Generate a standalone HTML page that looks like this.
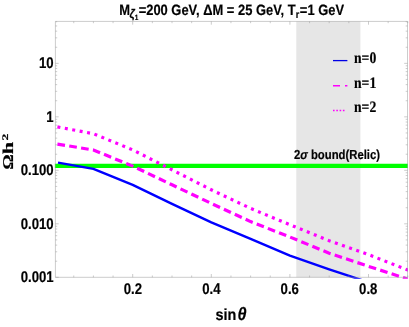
<!DOCTYPE html>
<html><head><meta charset="utf-8">
<style>
html,body{margin:0;padding:0;background:#fff;}
body{width:409px;height:327px;overflow:hidden;}
svg{display:block;}
text{font-family:"Liberation Sans",sans-serif;font-weight:bold;fill:#000;stroke:#000;stroke-width:0.2px;}
.ser{font-family:"Liberation Serif",serif;font-weight:bold;}
</style></head><body>
<svg width="409" height="327" viewBox="0 0 409 327" text-rendering="geometricPrecision">
<defs><clipPath id="cp"><rect x="54.9" y="21.4" width="353" height="257.4"/></clipPath></defs>
<rect width="409" height="327" fill="#fff"/>
<rect x="296.3" y="21.4" width="64.1" height="255.9" fill="#e6e6e6"/>
<g clip-path="url(#cp)">
<line x1="54" y1="165.9" x2="409" y2="165.9" stroke="#00ff00" stroke-width="4.4"/>
<polyline fill="none" stroke="#0000ff" stroke-width="2.4" stroke-linejoin="round" points="58.0,162.6 93.4,168.9 132.7,184.8 172.0,203.9 211.3,222.3 250.6,238.9 289.9,255.6 329.2,269.3 368.5,282.3"/>
<polyline fill="none" stroke="#ff00ff" stroke-width="3.2" stroke-dasharray="7.7,4.29" points="57.4,144.1 93.4,150.0 132.7,166.1 172.0,184.8 211.3,203.4 250.6,221.6 289.9,237.0 329.2,253.2 368.5,266.3 407.8,279.1 410.0,279.8"/>
<polyline fill="none" stroke="#ff00ff" stroke-width="3.2" stroke-dasharray="3,4.545" points="57.4,126.9 93.4,133.7 132.7,149.9 172.0,169.8 211.3,189.8 250.6,208.4 289.9,224.7 329.2,240.7 368.5,254.6 407.8,270.0 410.0,270.9"/>
</g>
<g stroke="#999" stroke-width="0.5" fill="none">
<path d="M55.4 21.4H407.5M55.4 277.3H407.5M55.4 21.4V277.3M407.5 21.4V277.3"/>
<path d="M55.4 277.31h3.3M407.5 277.31h-3.3M55.4 261.21h1.8M407.5 261.21h-1.8M55.4 251.79h1.8M407.5 251.79h-1.8M55.4 245.11h1.8M407.5 245.11h-1.8M55.4 239.92h1.8M407.5 239.92h-1.8M55.4 235.69h1.8M407.5 235.69h-1.8M55.4 232.11h1.8M407.5 232.11h-1.8M55.4 229.00h1.8M407.5 229.00h-1.8M55.4 226.27h1.8M407.5 226.27h-1.8M55.4 223.82h3.3M407.5 223.82h-3.3M55.4 207.72h1.8M407.5 207.72h-1.8M55.4 198.30h1.8M407.5 198.30h-1.8M55.4 191.62h1.8M407.5 191.62h-1.8M55.4 186.43h1.8M407.5 186.43h-1.8M55.4 182.20h1.8M407.5 182.20h-1.8M55.4 178.62h1.8M407.5 178.62h-1.8M55.4 175.51h1.8M407.5 175.51h-1.8M55.4 172.78h1.8M407.5 172.78h-1.8M55.4 170.33h3.3M407.5 170.33h-3.3M55.4 154.23h1.8M407.5 154.23h-1.8M55.4 144.81h1.8M407.5 144.81h-1.8M55.4 138.13h1.8M407.5 138.13h-1.8M55.4 132.94h1.8M407.5 132.94h-1.8M55.4 128.71h1.8M407.5 128.71h-1.8M55.4 125.13h1.8M407.5 125.13h-1.8M55.4 122.02h1.8M407.5 122.02h-1.8M55.4 119.29h1.8M407.5 119.29h-1.8M55.4 116.84h3.3M407.5 116.84h-3.3M55.4 100.74h1.8M407.5 100.74h-1.8M55.4 91.32h1.8M407.5 91.32h-1.8M55.4 84.64h1.8M407.5 84.64h-1.8M55.4 79.45h1.8M407.5 79.45h-1.8M55.4 75.22h1.8M407.5 75.22h-1.8M55.4 71.64h1.8M407.5 71.64h-1.8M55.4 68.53h1.8M407.5 68.53h-1.8M55.4 65.80h1.8M407.5 65.80h-1.8M55.4 63.35h3.3M407.5 63.35h-3.3M55.4 47.25h1.8M407.5 47.25h-1.8M55.4 37.83h1.8M407.5 37.83h-1.8M55.4 31.15h1.8M407.5 31.15h-1.8M55.4 25.96h1.8M407.5 25.96h-1.8M55.4 21.73h1.8M407.5 21.73h-1.8M73.75 277.3v-1.8M73.75 21.4v1.8M93.40 277.3v-1.8M93.40 21.4v1.8M113.05 277.3v-1.8M113.05 21.4v1.8M132.70 277.3v-3.3M132.70 21.4v3.3M152.35 277.3v-1.8M152.35 21.4v1.8M172.00 277.3v-1.8M172.00 21.4v1.8M191.65 277.3v-1.8M191.65 21.4v1.8M211.30 277.3v-3.3M211.30 21.4v3.3M230.95 277.3v-1.8M230.95 21.4v1.8M250.60 277.3v-1.8M250.60 21.4v1.8M270.25 277.3v-1.8M270.25 21.4v1.8M289.90 277.3v-3.3M289.90 21.4v3.3M309.55 277.3v-1.8M309.55 21.4v1.8M329.20 277.3v-1.8M329.20 21.4v1.8M348.85 277.3v-1.8M348.85 21.4v1.8M368.50 277.3v-3.3M368.50 21.4v3.3M388.15 277.3v-1.8M388.15 21.4v1.8M407.80 277.3v-1.8M407.80 21.4v1.8"/>
</g>
<g opacity="0.999">
<text transform="translate(53.70,68.35) scale(0.850,1)" font-size="15.50" text-anchor="end">10</text>
<text transform="translate(53.70,121.84) scale(0.850,1)" font-size="15.50" text-anchor="end">1</text>
<text transform="translate(53.70,175.33) scale(0.850,1)" font-size="15.50" text-anchor="end">0.100</text>
<text transform="translate(53.70,228.82) scale(0.850,1)" font-size="15.50" text-anchor="end">0.010</text>
<text transform="translate(53.70,282.31) scale(0.850,1)" font-size="15.50" text-anchor="end">0.001</text>
<text transform="translate(132.90,294.20) scale(0.850,1)" font-size="15.50" text-anchor="middle">0.2</text>
<text transform="translate(211.34,294.20) scale(0.850,1)" font-size="15.50" text-anchor="middle">0.4</text>
<text transform="translate(289.78,294.20) scale(0.850,1)" font-size="15.50" text-anchor="middle">0.6</text>
<text transform="translate(368.22,294.20) scale(0.850,1)" font-size="15.50" text-anchor="middle">0.8</text>

<text transform="translate(119.3,15.3) scale(0.861,1)" font-size="15">M<tspan font-size="12.5" dy="3" dx="-0.7" font-style="italic">ζ</tspan><tspan font-size="7.5" dy="2">1</tspan><tspan dy="-5" dx="0.4">=200 GeV, ΔM = 25 GeV, T</tspan><tspan font-size="10.5" dy="3">r</tspan><tspan dy="-3" dx="0.8">=1 GeV</tspan></text>
<text transform="translate(215.5,320.4) scale(0.9,1)" font-size="16">sin<tspan font-style="italic" dx="1.2" font-size="18">θ</tspan></text>
<g class="ser" transform="translate(12.9,169.8) rotate(-90)" font-size="15">
<text class="ser" transform="scale(1.29,1)">Ω</text>
<text class="ser" transform="translate(15.6,0) scale(1.48,1)">h</text>
<text class="ser" transform="translate(29.3,-5.3) scale(1.6,1)" font-size="8.5">2</text>
</g>
<text transform="translate(294,158.8) scale(0.87,1)" font-size="13">2<tspan font-style="italic">σ</tspan> bound(Relic)</text>
<text class="ser" transform="translate(354,62.8) scale(0.855,1)" font-size="16">n=0</text>
<text class="ser" transform="translate(354,87.5) scale(0.855,1)" font-size="16">n=1</text>
<text class="ser" transform="translate(354,112.2) scale(0.855,1)" font-size="16">n=2</text>
</g>
<line x1="333" y1="60.6" x2="347.4" y2="60.6" stroke="#0000e6" stroke-width="1.3"/>
<line x1="333" y1="85.7" x2="347.4" y2="85.7" stroke="#ff00ff" stroke-width="1.6" stroke-dasharray="7,5"/>
<line x1="333" y1="110.5" x2="346" y2="110.5" stroke="#ff00ff" stroke-width="1.6" stroke-dasharray="1.6,1.7"/>
</svg>
</body></html>
